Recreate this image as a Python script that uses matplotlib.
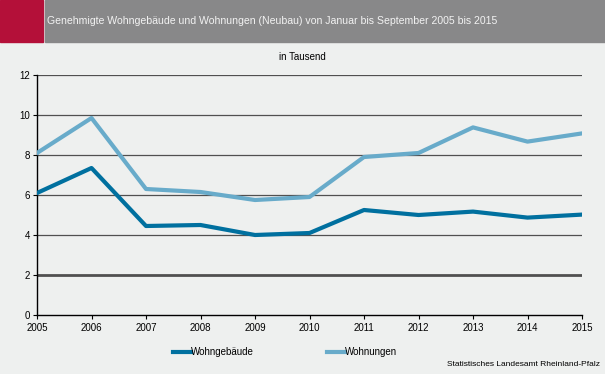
import matplotlib.pyplot as plt
from matplotlib.patches import Rectangle

# region Data
years = [2005, 2006, 2007, 2008, 2009, 2010, 2011, 2012, 2013, 2014, 2015]
wohngebaeude = [6.1, 7.35, 4.45, 4.5, 4.0, 4.1, 5.25, 5.0, 5.17, 4.87, 5.02]
wohnungen = [8.1, 9.85, 6.3, 6.15, 5.75, 5.9, 7.9, 8.1, 9.38, 8.67, 9.08]
y_ticks = [0, 2, 4, 6, 8, 10, 12]
# endregion

plt.rcParams['font.family'] = ['Liberation Sans', 'DejaVu Sans']
bg = '#eef0ef'

fig = plt.figure(figsize=(6.05, 3.74), dpi=100, facecolor=bg)

# header band
fig.patches.append(Rectangle((0, 1 - 42 / 374), 43 / 605, 42 / 374, transform=fig.transFigure,
                             color='#b41039', zorder=0))
fig.patches.append(Rectangle((45 / 605, 1 - 42 / 374), 1, 42 / 374, transform=fig.transFigure,
                             color='#888889', zorder=0))
fig.text(47 / 605, 1 - 21 / 374,
         'Genehmigte Wohngebäude und Wohnungen (Neubau) von Januar bis September 2005 bis 2015',
         color='#f2f2f2', fontsize=7.6, va='center', ha='left')

ax = fig.add_axes([37 / 605, 59 / 374, 545 / 605, 240 / 374])
ax.set_facecolor(bg)

ax.plot(years, wohngebaeude, color='#00709f', lw=3, label='Wohngebäude', zorder=3)
ax.plot(years, wohnungen, color='#68abca', lw=3, label='Wohnungen', zorder=3)

ax.set_xlim(2005, 2015)
ax.set_ylim(0, 12)
ax.set_xticks(years)
ax.set_yticks(y_ticks)
for t in y_ticks[1:]:
    ax.axhline(t, color='#505050', lw=2 if t == 2 else 0.9, zorder=1)

for s in ['top', 'right']:
    ax.spines[s].set_visible(False)
for s in ['left', 'bottom']:
    ax.spines[s].set_color('black')
    ax.spines[s].set_linewidth(1)
ax.tick_params(axis='both', labelsize=7, length=3, color='black', pad=2)
ax.tick_params(axis='x', pad=3)

fig.text(0.5, 1 - 57 / 374, 'in Tausend', fontsize=7, ha='center', va='center')

fig.legend(loc='center', bbox_to_anchor=(285 / 605, 1 - 352 / 374), ncol=2, frameon=False,
           fontsize=7, handlelength=1.9, handletextpad=0, columnspacing=7.5)

fig.text(600 / 605, 1 - 365 / 374, 'Statistisches Landesamt Rheinland-Pfalz', fontsize=6,
         ha='right', va='center')

fig.savefig('out.png', dpi=100, facecolor=bg)
